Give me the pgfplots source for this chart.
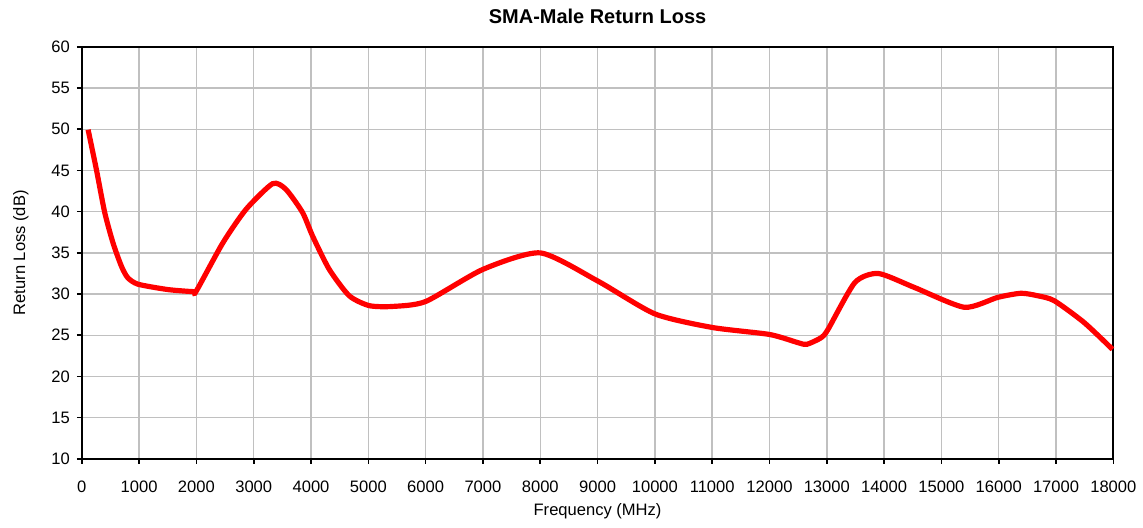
\documentclass[border=0pt]{standalone}
\usepackage{pgfplots}
\pgfplotsset{compat=1.18}
\usepackage{fontspec}
\setmainfont{Liberation Sans}
\definecolor{gridgray}{RGB}{192,192,192}
\begin{document}
\begin{tikzpicture}
\begin{axis}[
  name=ax,
  scale only axis,
  width=517pt, height=206.5pt,
  xmin=0, xmax=18000, ymin=10, ymax=60,
  xtick={0,1000,...,18000},
  ytick={10,15,...,60},
  scaled x ticks=false,
  xticklabel style={yshift=-5pt},
  x tick label style={/pgf/number format/fixed, /pgf/number format/1000 sep={}},
  /pgf/number format/assume math mode=true,
  tick label style={font=\fontsize{8.3}{10}\selectfont},
  label style={font=\fontsize{8.3}{10}\selectfont},
  title style={font=\bfseries\fontsize{10}{12}\selectfont, yshift=2pt},
  title={SMA-Male Return Loss},
  xlabel={Frequency (MHz)},
  ylabel={Return Loss (dB)},
  xlabel style={yshift=1.5pt},
  ylabel style={yshift=4.5pt},
  grid=major,
  major grid style={gridgray, line width=0.75pt},
  axis line style={black, line width=1pt},
  tick pos=left,
  tick align=outside,
  major tick length=2.5pt,
  tick style={black, line width=0.8pt},
  clip=false,
]
\addplot[red, line width=2.6pt, smooth, tension=0.4] coordinates {
(110,49.95) (255,45.1) (400,39.9) (545,36.2) (690,33.4) (800,32.0) (980,31.2) (1500,30.55) (1940,30.3) (2000,30.4)
(2460,36.2) (2867,40.3) (3330,43.4) (3563,42.7) (3852,39.9) (4030,37.0) (4318,33.0) (4666,29.8)
(5014,28.6) (5420,28.5) (6000,29.1) (7000,33.0) (8000,35.0) (9000,31.6) (10000,27.6)
(11000,25.95) (12000,25.1) (12500,24.1) (12650,23.9) (12900,24.7) (13020,25.7)
(13490,31.4) (13900,32.5) (14530,30.8) (15400,28.4) (15982,29.6) (16388,30.1) (16677,29.8) (16968,29.2) (17490,26.55) (17985,23.3)
};
\end{axis}
\path[use as bounding box] ([xshift=-41pt,yshift=-34.5pt]ax.south west) rectangle ([xshift=13.5pt,yshift=23.5pt]ax.north east);
\end{tikzpicture}
\end{document}
